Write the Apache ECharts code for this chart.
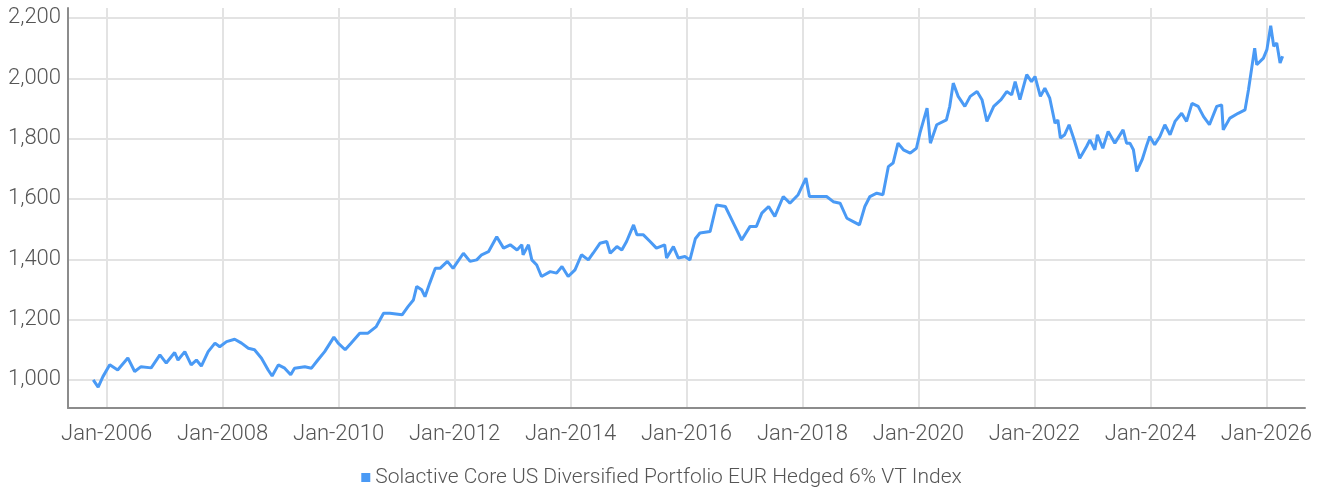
<!DOCTYPE html>
<html>
<head>
<meta charset="utf-8">
<title>Solactive Core US Diversified Portfolio EUR Hedged 6% VT Index</title>
<script src="https://cdn.jsdelivr.net/npm/echarts@6/dist/echarts.min.js"></script>
<style>
  html, body { margin: 0; padding: 0; background: #fff; }
  #main { width: 1323px; height: 493px; }
</style>
</head>
<body>
<div id="main"></div>
<script>
// index level
var seriesName = 'Solactive Core US Diversified Portfolio EUR Hedged 6% VT Index';
var dates = [
  '2005-10-07','2005-11-07','2005-12-07','2006-01-19','2006-03-10','2006-05-13','2006-06-25','2006-08-04',
  '2006-10-07','2006-12-01','2007-01-10','2007-03-04','2007-03-25','2007-05-07','2007-06-16','2007-07-19',
  '2007-08-19','2007-10-01','2007-11-13','2007-12-13','2008-01-25','2008-03-16','2008-04-28','2008-06-10',
  '2008-07-19','2008-09-01','2008-10-13','2008-11-07','2008-12-16','2009-01-25','2009-03-04','2009-03-28',
  '2009-06-01','2009-07-13','2009-08-22','2009-10-04','2009-12-01','2009-12-28','2010-02-10','2010-03-19',
  '2010-05-13','2010-07-04','2010-08-25','2010-10-10','2010-11-19','2011-02-04','2011-03-13','2011-04-16',
  '2011-05-07','2011-06-07','2011-06-28','2011-07-28','2011-09-01','2011-10-01','2011-11-16','2011-12-22',
  '2012-02-25','2012-04-07','2012-05-19','2012-06-19','2012-08-01','2012-09-22','2012-11-04','2012-12-16',
  '2013-01-28','2013-02-27','2013-03-07','2013-04-10','2013-05-01','2013-06-01','2013-07-01','2013-08-25',
  '2013-10-04','2013-11-07','2013-12-16','2014-01-28','2014-03-10','2014-04-22','2014-05-22','2014-07-04',
  '2014-08-16','2014-09-07','2014-10-19','2014-11-19','2014-12-19','2015-02-01','2015-02-22','2015-04-04',
  '2015-05-16','2015-06-25','2015-08-16','2015-08-28','2015-10-10','2015-11-10','2015-12-22','2016-01-22',
  '2016-02-25','2016-03-25','2016-05-28','2016-07-07','2016-09-01','2016-10-22','2016-12-13','2017-02-04',
  '2017-03-16','2017-04-19','2017-06-01','2017-07-10','2017-09-01','2017-10-13','2017-12-04','2018-01-22',
  '2018-02-13','2018-03-28','2018-06-01','2018-07-13','2018-08-25','2018-10-07','2018-11-16','2018-12-25',
  '2019-01-28','2019-03-01','2019-04-13','2019-05-22','2019-06-25','2019-07-25','2019-08-25','2019-09-28',
  '2019-11-10','2019-12-19','2020-01-10','2020-02-24','2020-03-16','2020-04-25','2020-06-25','2020-07-16',
  '2020-08-07','2020-09-07','2020-10-19','2020-11-22','2021-01-04','2021-02-04','2021-03-07','2021-04-19',
  '2021-06-04','2021-07-10','2021-08-10','2021-09-01','2021-10-01','2021-11-13','2021-12-13','2022-01-04',
  '2022-02-07','2022-03-07','2022-04-07','2022-05-10','2022-05-28','2022-06-13','2022-07-10','2022-08-07',
  '2022-09-04','2022-10-13','2022-11-25','2022-12-16','2023-01-16','2023-02-01','2023-03-07','2023-04-10',
  '2023-05-22','2023-07-13','2023-08-04','2023-08-25','2023-09-16','2023-10-07','2023-11-10','2023-12-10',
  '2023-12-28','2024-01-28','2024-03-01','2024-04-01','2024-05-04','2024-06-04','2024-07-16','2024-08-16',
  '2024-09-19','2024-10-28','2024-12-01','2025-01-07','2025-02-22','2025-03-25','2025-04-04','2025-05-16',
  '2025-07-07','2025-08-19','2025-09-10','2025-10-19','2025-11-01','2025-12-13','2026-01-04','2026-01-28',
  '2026-02-16','2026-03-07','2026-03-28','2026-04-13'
];
var values = [
  1000, 976, 1011, 1050, 1033, 1073, 1028, 1044,
  1040, 1083, 1056, 1091, 1066, 1094, 1050, 1066,
  1046, 1094, 1122, 1110, 1127, 1135, 1122, 1105,
  1100, 1072, 1033, 1013, 1050, 1039, 1017, 1039,
  1044, 1039, 1066, 1094, 1142, 1122, 1100, 1122,
  1155, 1155, 1177, 1221, 1221, 1216, 1243, 1265,
  1310, 1299, 1276, 1321, 1370, 1370, 1393, 1370,
  1420, 1393, 1398, 1415, 1425, 1475, 1437, 1448,
  1431, 1448, 1415, 1448, 1398, 1381, 1343, 1359,
  1354, 1376, 1343, 1365, 1415, 1398, 1420, 1453,
  1459, 1420, 1442, 1431, 1459, 1514, 1481, 1481,
  1459, 1437, 1448, 1404, 1442, 1404, 1409, 1398,
  1468, 1487, 1492, 1580, 1575, 1520, 1464, 1509,
  1509, 1553, 1575, 1542, 1608, 1586, 1614, 1669,
  1608, 1608, 1608, 1591, 1586, 1536, 1525, 1514,
  1575, 1608, 1619, 1614, 1707, 1719, 1785, 1763,
  1752, 1768, 1818, 1901, 1785, 1846, 1862, 1907,
  1984, 1940, 1907, 1940, 1956, 1929, 1857, 1907,
  1929, 1956, 1945, 1989, 1929, 2012, 1989, 2006,
  1940, 1967, 1934, 1851, 1862, 1802, 1813, 1846,
  1802, 1735, 1774, 1796, 1763, 1813, 1768, 1824,
  1785, 1829, 1785, 1785, 1763, 1691, 1730, 1780,
  1807, 1780, 1807, 1846, 1813, 1857, 1884, 1857,
  1917, 1907, 1873, 1846, 1907, 1912, 1829, 1868,
  1884, 1895, 1962, 2100, 2045, 2067, 2095, 2174,
  2106, 2117, 2051, 2073
];
var axisStart = '2005-05-01';
var axisEnd = '2026-09-01';

// monthly calendar used for the grid lines / labels
var monthNames = ['Jan','Feb','Mar','Apr','May','Jun','Jul','Aug','Sep','Oct','Nov','Dec'];
var months = [];
for (var y = 2005, m = 4; y < 2026 || (y == 2026 && m <= 8); m++) {
  if (m > 11) { m = 0; y++; }
  if (y == 2026 && m > 8) break;
  months.push(monthNames[m] + '-' + y);
}
function isMark(name) {
  return name.indexOf('Jan-') === 0 && (+name.slice(4)) % 2 === 0;
}

var lineData = dates.map(function (d, i) { return [d, values[i]]; });

var chart = echarts.init(document.getElementById('main'));
var option = {
  animation: false,
  textStyle: { fontFamily: 'Roboto, "Liberation Sans", sans-serif' },
  color: ['#4a9af5'],
  grid: { left: 68, right: 18, top: 8, bottom: 85 },
  legend: {
    bottom: 0,
    left: 'center',
    icon: 'rect',
    itemWidth: 9,
    itemHeight: 9,
    itemGap: 4,
    data: [seriesName],
    textStyle: { color: '#555', fontSize: 21, fontWeight: 300 }
  },
  xAxis: [{
    type: 'time',
    min: axisStart,
    max: axisEnd,
    axisLine: { show: false },
    axisTick: { show: false },
    axisLabel: { show: false },
    splitLine: { show: false }
  }, {
    type: 'category',
    data: months,
    boundaryGap: false,
    position: 'bottom',
    axisLine: { show: true, lineStyle: { color: '#8c8c8c', width: 2 } },
    axisTick: { show: false },
    axisLabel: {
      interval: function (i, v) { return isMark(v); },
      color: '#555',
      fontSize: 22,
      fontWeight: 300,
      margin: 15
    },
    splitLine: {
      show: true,
      interval: function (i, v) { return isMark(v); },
      lineStyle: { color: '#e3e3e3', width: 2 }
    }
  }],
  yAxis: {
    type: 'value',
    min: 907,
    max: 2233,
    splitNumber: 6,
    axisLine: { show: true, lineStyle: { color: '#8c8c8c', width: 2 } },
    axisTick: { show: false },
    axisLabel: {
      showMinLabel: false,
      showMaxLabel: false,
      color: '#555',
      fontSize: 22,
      fontWeight: 300,
      margin: 7,
      formatter: function (v) { return String(v).replace(/\B(?=(\d{3})+(?!\d))/g, ','); }
    },
    splitLine: {
      show: true,
      showMinLine: false,
      showMaxLine: false,
      lineStyle: { color: '#e3e3e3', width: 2 }
    }
  },
  series: [{
    name: seriesName,
    type: 'line',
    xAxisIndex: 0,
    data: lineData,
    showSymbol: false,
    lineStyle: { width: 3 }
  }]
};
chart.setOption(option);
</script>
</body>
</html>
